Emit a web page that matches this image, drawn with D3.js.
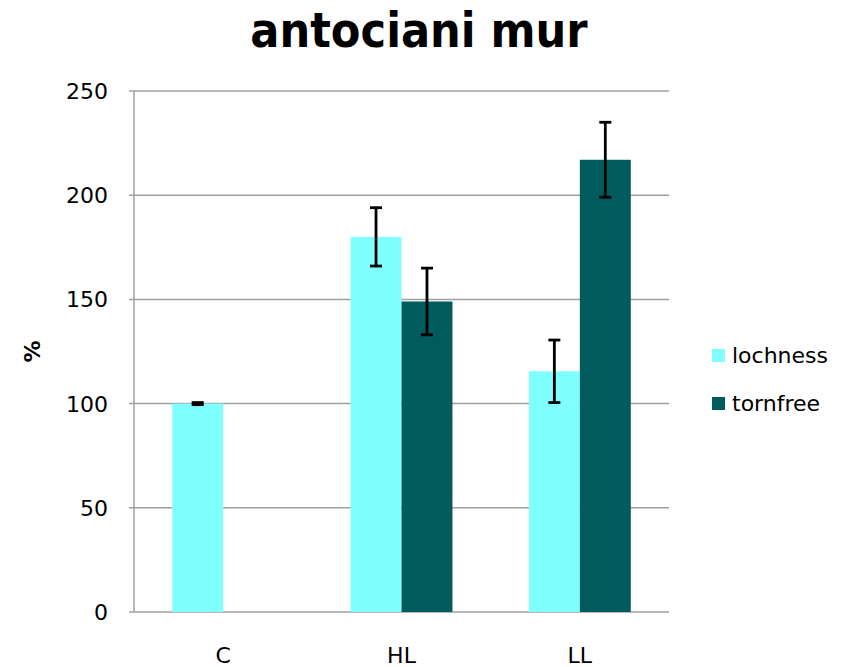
<!DOCTYPE html>
<html>
<head>
<meta charset="utf-8">
<script src="https://cdn.jsdelivr.net/npm/d3@7"></script>
<style>
  body { margin: 0; background: #fff; }
  text { font-family: "DejaVu Sans", Verdana, sans-serif; }
</style>
</head>
<body>
<div id="chart"></div>
<script>
// antociani mur - grouped bars with error bars

const categories = ['C', 'HL', 'LL'];
const seriesNames = ['lochness', 'tornfree'];
const lochness = [100, 180, 115.5];
const tornfree = [null, 149, 217];
const lochnessErr = [0.5, 14, 15];
const tornfreeErr = [null, 16, 18];
const yTicks = [0, 50, 100, 150, 200, 250];

const COLORS = ['#80ffff', '#005c5c'];

const WIDTH = 851;
const HEIGHT = 667;
const MARGINS = {left: 134, right: 182, top: 91, bottom: 55};

const svg = d3.select('#chart')
  .append('svg')
    .attr('width', WIDTH)
    .attr('height', HEIGHT);

const xScale = d3.scaleBand()
  .domain(categories)
  .range([MARGINS.left, WIDTH - MARGINS.right])
  .padding(0);

const yScale = d3.scaleLinear()
  .domain([0, 250])
  .range([HEIGHT - MARGINS.bottom, MARGINS.top]);

// bar width: gap width 150% of a bar
const barW = xScale.bandwidth() / 3.5;
const xSub = d3.scaleBand()
  .domain(seriesNames)
  .range([-barW, barW]);

// gridlines
svg.append('g')
  .selectAll('line')
  .data(yTicks)
  .enter()
  .append('line')
    .attr('x1', MARGINS.left - 5)
    .attr('x2', WIDTH - MARGINS.right)
    .attr('y1', d => yScale(d))
    .attr('y2', d => yScale(d))
    .attr('stroke', '#a0a0a0')
    .attr('stroke-width', 1.5);

// left axis line
svg.append('line')
  .attr('x1', MARGINS.left)
  .attr('x2', MARGINS.left)
  .attr('y1', yScale(250))
  .attr('y2', yScale(0))
  .attr('stroke', '#a0a0a0')
  .attr('stroke-width', 1.5);

// y labels
svg.append('g')
  .selectAll('text')
  .data(yTicks)
  .enter()
  .append('text')
    .attr('x', MARGINS.left - 26)
    .attr('y', d => yScale(d) + 8)
    .attr('text-anchor', 'end')
    .attr('font-size', '22px')
    .text(d => d);

// bars
const rows = categories.map((c, i) => ({
  cat: c,
  vals: [
    {s: 'lochness', v: lochness[i], e: lochnessErr[i], col: COLORS[0]},
    {s: 'tornfree', v: tornfree[i], e: tornfreeErr[i], col: COLORS[1]}
  ].filter(d => d.v != null)
}));

const groups = svg.selectAll('.grp')
  .data(rows)
  .enter()
  .append('g')
    .attr('class', 'grp')
    .attr('transform', d => 'translate(' + (xScale(d.cat) + xScale.bandwidth() / 2) + ',0)');

groups.selectAll('rect')
  .data(d => d.vals)
  .enter()
  .append('rect')
    .attr('x', d => xSub(d.s))
    .attr('width', xSub.bandwidth())
    .attr('y', d => yScale(d.v))
    .attr('height', d => yScale(0) - yScale(d.v))
    .attr('fill', d => d.col);

// error bars
const eb = groups.selectAll('.err')
  .data(d => d.vals)
  .enter()
  .append('g')
    .attr('class', 'err')
    .attr('stroke', '#000')
    .attr('stroke-width', 2.8);

eb.append('line')
  .attr('x1', d => xSub(d.s) + xSub.bandwidth() / 2)
  .attr('x2', d => xSub(d.s) + xSub.bandwidth() / 2)
  .attr('y1', d => yScale(d.v + d.e))
  .attr('y2', d => yScale(d.v - d.e));

eb.selectAll('.cap')
  .data(d => [d.v + d.e, d.v - d.e].map(y => ({y: y, s: d.s})))
  .enter()
  .append('line')
    .attr('x1', d => xSub(d.s) + xSub.bandwidth() / 2 - 6)
    .attr('x2', d => xSub(d.s) + xSub.bandwidth() / 2 + 6)
    .attr('y1', d => yScale(d.y))
    .attr('y2', d => yScale(d.y));

// x labels
svg.append('g')
  .selectAll('text')
  .data(categories)
  .enter()
  .append('text')
    .attr('x', d => xScale(d) + xScale.bandwidth() / 2)
    .attr('y', HEIGHT - 4)
    .attr('text-anchor', 'middle')
    .attr('font-size', '22px')
    .text(d => d);

// title
svg.append('text')
  .attr('x', 419)
  .attr('y', 47)
  .attr('text-anchor', 'middle')
  .attr('font-size', '48px')
  .attr('font-weight', 'bold')
  .style('font-stretch', 'condensed')
  .text('antociani mur');

// y axis title
svg.append('text')
  .attr('transform', 'translate(40,' + yScale(125) + ') rotate(-90)')
  .attr('text-anchor', 'middle')
  .attr('font-size', '22px')
  .attr('font-weight', 'bold')
  .text('%');

// legend
const legend = svg.append('g')
  .selectAll('g')
  .data(seriesNames)
  .enter()
  .append('g')
    .attr('transform', (d, i) => 'translate(712,' + (349 + i * 48) + ')');

legend.append('rect')
  .attr('width', 13)
  .attr('height', 13)
  .attr('fill', (d, i) => COLORS[i]);

legend.append('text')
  .attr('x', 20)
  .attr('y', 14)
  .attr('font-size', '22px')
  .text(d => d);
</script>
</body>
</html>
